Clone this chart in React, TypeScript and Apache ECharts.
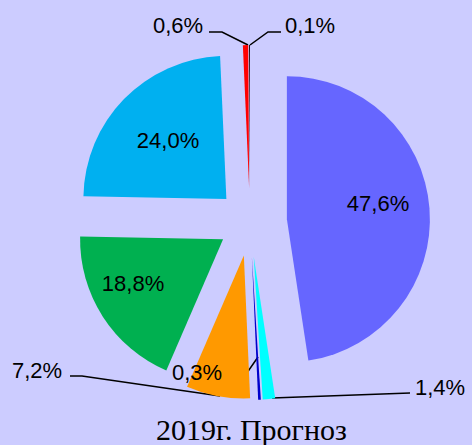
import React, { useEffect, useRef } from 'react';
import * as echarts from 'echarts';

// Data
const categories = ['Доля 1', 'Доля 2', 'Доля 3', 'Доля 4', 'Доля 5', 'Доля 6', 'Доля 7', 'Доля 8'];
const values = [47.6, 1.4, 0.3, 7.2, 18.8, 24.0, 0.6, 0.1];
const titleText = '2019г. Прогноз';

// Styles
const colors = ['#6666FF', '#00FFFF', '#0000CC', '#FF9900', '#00B050', '#00B0F0', '#FF0000', '#000000'];
const explode = [37, 35, 35, 34, 32, 33, 34, 34];
const insideLabel = [true, false, false, false, true, true, false, false];
// label centres and label line points (pixels)
const labelPos: number[][] = [
  [378, 203], [440, 387], [197, 372], [37, 370], [133, 283], [168, 140], [178, 25], [310, 25],
];
const labelLines: number[][][] = [
  [],
  [[410, 393], [410, 393], [272, 398]],
  [[229, 380], [242, 380], [258, 357]],
  [[70, 376], [82, 376], [220, 396]],
  [],
  [],
  [[209, 32], [222, 32], [248, 45]],
  [[281, 32], [268, 32], [250, 45]],
];
const CX = 250;
const CY = 222;
const R = 143;

export default function App() {
  const ref = useRef<HTMLDivElement>(null);
  useEffect(() => {
    document.body.style.margin = '0';
    const chart = echarts.init(ref.current!, null, { renderer: 'svg' });
    const total = values.reduce((a, b) => a + b, 0);
    let cum = 0;
    const series = values.map((v, i) => {
      const mid = ((cum + v / 2) / total) * Math.PI * 2;
      cum += v;
      const dx = Math.sin(mid) * explode[i];
      const dy = -Math.cos(mid) * explode[i];
      return {
        type: 'pie',
        radius: R,
        center: [CX + dx, CY + dy],
        startAngle: 90,
        clockwise: true,
        silent: true,
        animation: false,
        avoidLabelOverlap: false,
        minAngle: 0,
        data: values.map((w, j) => ({
          name: categories[j],
          value: w,
          itemStyle: { color: j === i ? colors[j] : 'rgba(0,0,0,0)', borderWidth: 0 },
          label: { show: j === i },
          labelLine: { show: j === i && !insideLabel[i] },
        })),
        label: {
          position: insideLabel[i] ? 'inside' : 'outside',
          formatter: (p: any) => p.value.toFixed(1).replace('.', ',') + '%',
          fontSize: 22,
          fontFamily: 'Liberation Sans, Arial, sans-serif',
          color: '#000',
        },
        labelLine: {
          show: !insideLabel[i],
          lineStyle: { color: '#000', width: 1.5 },
        },
        labelLayout: (p: any) => {
          if (p.dataIndex !== i) return {};
          const res: any = {
            x: labelPos[i][0],
            y: labelPos[i][1],
            align: 'center',
            verticalAlign: 'middle',
          };
          if (!insideLabel[i]) res.labelLinePoints = labelLines[i];
          return res;
        },
      };
    });
    chart.setOption({
      animation: false,
      backgroundColor: '#CCCCFF',
      title: {
        text: titleText,
        left: 156,
        top: 414,
        padding: 0,
        textStyle: {
          fontFamily: 'Liberation Serif, Times New Roman, serif',
          fontSize: 30,
          fontWeight: 'normal',
          color: '#000',
        },
      },
      series,
    } as any);
    return () => chart.dispose();
  }, []);
  return <div ref={ref} style={{ width: 472, height: 445 }} />;
}
